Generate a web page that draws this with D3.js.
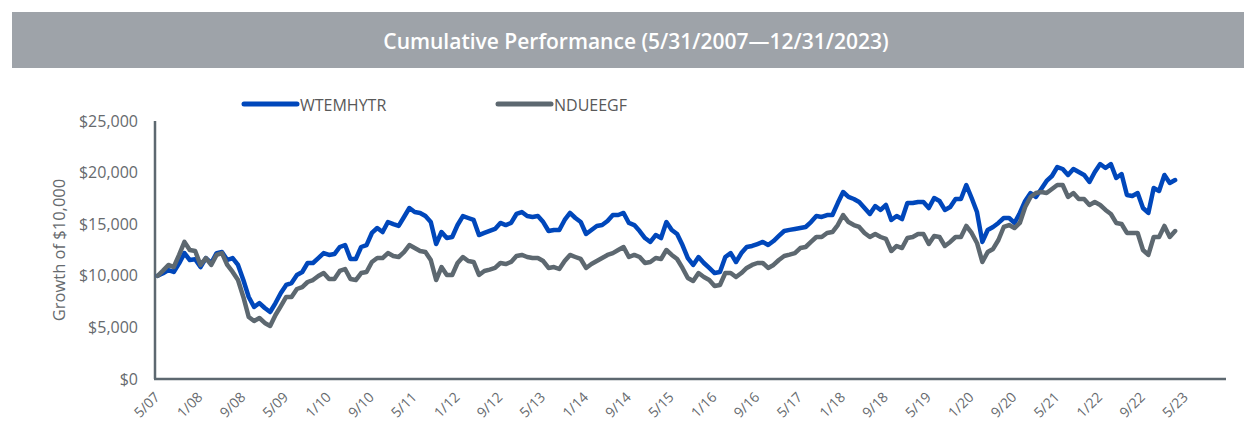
<!DOCTYPE html>
<html>
<head>
<meta charset="utf-8">
<script src="https://cdn.jsdelivr.net/npm/d3@7"></script>
<style>
  html, body { margin: 0; padding: 0; background: #ffffff; }
  svg { display: block; }
</style>
</head>
<body>
<svg id="chart" width="1256" height="432"></svg>
<script>
// Growth of $10,000, month-end values from 5/07 onward
const seriesNames = ["WTEMHYTR", "NDUEEGF"];
const seriesColors = ["#0047bb", "#5d6870"];

const wtemhytr = [
  10000, 10250, 10560, 10370, 11200, 12200, 11530, 11600, 10850, 11720, 11240, 12200,
  12300, 11530, 11720, 11050, 9590, 7950, 6980, 7360, 6880, 6490, 7360, 8330,
  9110, 9300, 10080, 10370, 11240, 11240, 11720, 12200, 12020, 12110, 12790, 12980,
  11630, 11630, 12790, 12980, 14150, 14630, 14240, 15210, 15000, 14830, 15700, 16570,
  16180, 16090, 15790, 15210, 13080, 14240, 13660, 13760, 14920, 15790, 15600, 15410,
  13950, 14150, 14350, 14540, 15120, 14920, 15120, 15990, 16180, 15790, 15700, 15790,
  15210, 14340, 14440, 14440, 15410, 16090, 15600, 15210, 14050, 14440, 14830, 14920,
  15310, 15890, 15890, 16090, 15120, 14920, 14340, 13660, 13280, 13950, 13660, 15210,
  14440, 14050, 12980, 11720, 11050, 11820, 11240, 10760, 10270, 10370, 11820, 12200,
  11340, 12200, 12790, 12890, 13080, 13280, 12980, 13370, 13860, 14340, 14450, 14540,
  14630, 14730, 15210, 15790, 15700, 15890, 15890, 17050, 18120, 17640, 17440, 17150,
  16570, 15990, 16760, 16380, 16860, 15410, 15790, 15500, 17050, 17050, 17150, 17150,
  16570, 17540, 17250, 16380, 16670, 17440, 17440, 18800, 17540, 16180, 13280, 14440,
  14730, 15120, 15600, 15600, 15120, 16090, 17250, 18020, 17640, 18410, 19190, 19670,
  20540, 20350, 19770, 20350, 20060, 19770, 19090, 20060, 20830, 20450, 20830, 19480,
  19860, 17830, 17730, 18020, 16570, 16090, 18510, 18220, 19770, 18990, 19280
];

const ndueegf = [
  10000, 10500, 11050, 10850, 12020, 13280, 12500, 12400, 11050, 11720, 11050, 12020,
  12200, 11050, 10370, 9590, 7950, 6010, 5620, 5910, 5430, 5140, 6200, 7070,
  7950, 7950, 8720, 8910, 9400, 9590, 9980, 10270, 9690, 9690, 10470, 10660,
  9690, 9590, 10270, 10370, 11340, 11720, 11720, 12200, 11920, 11820, 12300, 12980,
  12690, 12400, 12300, 11530, 9590, 10850, 10080, 10080, 11240, 11820, 11430, 11340,
  10080, 10470, 10600, 10760, 11240, 11140, 11340, 11920, 12020, 11820, 11720, 11720,
  11430, 10760, 10850, 10660, 11430, 12020, 11820, 11630, 10760, 11140, 11430, 11720,
  12020, 12200, 12500, 12790, 11820, 12020, 11820, 11240, 11340, 11720, 11630, 12500,
  12020, 11630, 10760, 9790, 9500, 10270, 9880, 9590, 9010, 9110, 10270, 10270,
  9880, 10270, 10760, 11050, 11240, 11240, 10760, 11050, 11530, 11920, 12050, 12200,
  12690, 12790, 13280, 13760, 13760, 14150, 14240, 14920, 15890, 15210, 14920, 14730,
  14150, 13760, 14050, 13760, 13570, 12400, 12890, 12690, 13660, 13760, 14050, 14050,
  13080, 13860, 13760, 12890, 13280, 13760, 13760, 14830, 14150, 13180, 11340, 12300,
  12600, 13470, 14730, 14920, 14630, 15120, 16670, 17640, 18020, 18120, 18020, 18410,
  18800, 18800, 17640, 18020, 17440, 17440, 16860, 17150, 16860, 16380, 15990, 15120,
  15020, 14150, 14150, 14150, 12500, 12020, 13760, 13760, 14830, 13760, 14340
];

const yTicks = [0, 5000, 10000, 15000, 20000, 25000];
const xTickLabels = [
  "5/07", "1/08", "9/08", "5/09", "1/10", "9/10", "5/11", "1/12", "9/12", "5/13",
  "1/14", "9/14", "5/15", "1/16", "9/16", "5/17", "1/18", "9/18", "5/19", "1/20",
  "9/20", "5/21", "1/22", "9/22", "5/23"
];

// Monthly category axis spanning 5/07 through 12/23
const fmtMonth = d3.timeFormat("%-m/%y");
const months = d3.timeMonth.range(new Date(2007, 4, 1), new Date(2024, 0, 1)).map(fmtMonth);

const svg = d3.select("#chart");
const FONT = "'Open Sans', 'Noto Sans', sans-serif";
const TEXT_GRAY = "#666a6e";

const plot = { left: 155, right: 1226, top: 121, bottom: 379 };

const x = d3.scaleBand().domain(months).range([plot.left, plot.right]).padding(0);
const xc = (m) => x(m) + x.bandwidth() / 2;
const y = d3.scaleLinear().domain([0, 25000]).range([plot.bottom, plot.top]);

// Title banner
svg.append("rect")
  .attr("x", 12).attr("y", 12)
  .attr("width", 1232).attr("height", 56)
  .attr("fill", "#9ea3a9");
svg.append("text")
  .attr("x", 636).attr("y", 41)
  .attr("text-anchor", "middle")
  .attr("dominant-baseline", "central")
  .attr("font-family", FONT)
  .attr("font-size", 21)
  .attr("font-weight", 600)
  .attr("fill", "#ffffff")
  .text("Cumulative Performance (5/31/2007\u201412/31/2023)");

// Legend
const legend = svg.append("g");
const legendX = [242, 496];
seriesNames.forEach((name, i) => {
  const g = legend.append("g").attr("transform", `translate(${legendX[i]},104)`);
  g.append("line")
    .attr("x1", 2).attr("x2", 55).attr("y1", 0).attr("y2", 0)
    .attr("stroke", seriesColors[i]).attr("stroke-width", 5)
    .attr("stroke-linecap", "round");
  g.append("text")
    .attr("x", 58).attr("y", 1)
    .attr("dominant-baseline", "central")
    .attr("font-family", FONT)
    .attr("font-size", 16)
    .attr("fill", "#595959")
    .text(name);
});

// Y axis
const yAxis = d3.axisLeft(y)
  .tickValues(yTicks)
  .tickSize(0)
  .tickPadding(17)
  .tickFormat(d => "$" + d3.format(",")(d));
const gy = svg.append("g").attr("transform", `translate(${plot.left},0)`).call(yAxis);
gy.select(".domain").remove();
gy.selectAll("text")
  .attr("font-family", FONT)
  .attr("font-size", 16)
  .attr("fill", TEXT_GRAY);

svg.append("text")
  .attr("transform", `translate(58,${(plot.top + plot.bottom) / 2}) rotate(-90)`)
  .attr("text-anchor", "middle")
  .attr("dominant-baseline", "central")
  .attr("font-family", FONT)
  .attr("font-size", 16.5)
  .attr("fill", TEXT_GRAY)
  .text("Growth of $10,000");

// X axis with rotated month labels
const xAxis = d3.axisBottom(x).tickValues(xTickLabels).tickSize(0).tickPadding(0);
const gx = svg.append("g").attr("transform", `translate(0,${plot.bottom})`).call(xAxis);
gx.select(".domain").remove();
gx.selectAll(".tick text")
  .attr("font-family", FONT)
  .attr("font-size", 14)
  .attr("fill", TEXT_GRAY)
  .attr("text-anchor", "end")
  .attr("dy", 0)
  .attr("transform", "translate(3,19) rotate(-45)");

// Axis lines
svg.append("line")
  .attr("x1", plot.left).attr("x2", plot.left)
  .attr("y1", plot.top).attr("y2", plot.bottom)
  .attr("stroke", "#5d6870").attr("stroke-width", 2.5);
svg.append("line")
  .attr("x1", plot.left - 1).attr("x2", plot.right)
  .attr("y1", plot.bottom).attr("y2", plot.bottom)
  .attr("stroke", "#5d6870").attr("stroke-width", 2.5);

// Series lines (NDUEEGF drawn over WTEMHYTR)
const line = d3.line()
  .x((d, i) => xc(months[i]))
  .y(d => y(d))
  .curve(d3.curveLinear);

[wtemhytr, ndueegf].forEach((vals, i) => {
  svg.append("path")
    .datum(vals)
    .attr("fill", "none")
    .attr("stroke", seriesColors[i])
    .attr("stroke-width", 4.5)
    .attr("stroke-linejoin", "round")
    .attr("stroke-linecap", "round")
    .attr("d", line);
});
</script>
</body>
</html>
